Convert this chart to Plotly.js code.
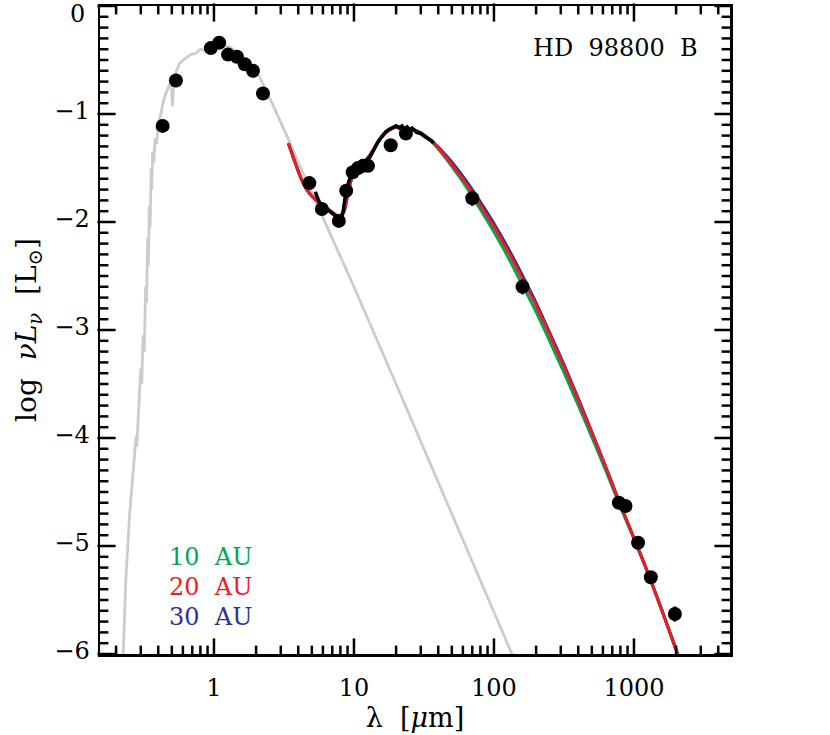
<!DOCTYPE html>
<html>
<head>
<meta charset="utf-8">
<script src="https://cdn.plot.ly/plotly-3.0.1.min.js"></script>
<style>body{margin:0;background:#fff}</style>
</head>
<body>
<div id="sed" style="width:830px;height:735px"></div>
<script>
// stellar photosphere (grey)
var photLam = [0.222, 0.235, 0.25, 0.262, 0.272, 0.278, 0.281, 0.29, 0.30, 0.305, 0.312, 0.318, 0.325, 0.33, 0.336, 0.34, 0.345, 0.35, 0.356, 0.36, 0.365, 0.372, 0.38, 0.39, 0.40, 0.42, 0.44, 0.46, 0.48, 0.495, 0.505, 0.515, 0.54, 0.57, 0.62, 0.68, 0.74, 0.8, 0.86, 0.92, 1.0, 1.1, 1.3, 1.5, 1.8, 2.1, 2.5, 3.0, 3.5, 4.0, 5.0, 6.0, 7.7, 10, 20, 50, 100, 145];
var photLog = [-6.2, -5.3, -4.7, -4.35, -4.1, -3.98, -4.08, -3.7, -3.35, -3.5, -3.05, -3.2, -2.6, -2.75, -2.15, -2.4, -1.85, -2.05, -1.5, -1.7, -1.35, -1.45, -1.22, -1.28, -1.1, -0.98, -0.86, -0.79, -0.73, -0.69, -0.93, -0.7, -0.6, -0.53, -0.49, -0.45, -0.44, -0.4, -0.41, -0.37, -0.36, -0.36, -0.38, -0.44, -0.55, -0.65, -0.85, -1.07, -1.27, -1.45, -1.73, -1.95, -2.26, -2.6, -3.5, -4.7, -5.6, -6.1];

// disk models (10, 20, 30 AU)
var modLam = [3.4, 3.8, 4.2, 4.6, 5.0, 5.5, 6.2, 7.0, 7.8, 8.5, 9.0, 9.7, 10.5, 11.5, 13, 15, 17, 19, 21, 24, 28, 35, 41, 50, 63, 79, 100, 126, 158, 200, 251, 316, 398, 501, 631, 794, 1000, 1259, 1585, 1995, 2239];
var mod20 = [-1.27, -1.45, -1.6, -1.7, -1.76, -1.81, -1.86, -1.91, -1.95, -1.9, -1.75, -1.58, -1.5, -1.46, -1.38, -1.25, -1.17, -1.13, -1.12, -1.13, -1.16, -1.24, -1.33, -1.465, -1.64, -1.833, -2.043, -2.27, -2.513, -2.773, -3.048, -3.338, -3.641, -3.954, -4.276, -4.606, -4.926, -5.25, -5.6, -5.96, -6.14];
var mod10 = [-1.27, -1.45, -1.6, -1.7, -1.76, -1.81, -1.86, -1.91, -1.95, -1.9, -1.75, -1.58, -1.5, -1.46, -1.38, -1.25, -1.17, -1.13, -1.12, -1.13, -1.16, -1.245, -1.34, -1.485, -1.67, -1.873, -2.093, -2.325, -2.573, -2.833, -3.108, -3.393, -3.691, -3.994, -4.306, -4.626, -4.936, -5.25, -5.59, -5.95, -6.13];
var mod30 = [-1.27, -1.45, -1.6, -1.7, -1.76, -1.81, -1.86, -1.91, -1.95, -1.9, -1.75, -1.58, -1.5, -1.46, -1.38, -1.25, -1.17, -1.13, -1.12, -1.13, -1.155, -1.235, -1.32, -1.445, -1.615, -1.803, -2.013, -2.24, -2.483, -2.748, -3.028, -3.318, -3.626, -3.944, -4.271, -4.606, -4.926, -5.25, -5.6, -5.96, -6.14];

// Spitzer IRS spectrum (black)
var irsLam = [5.3, 5.5, 5.8, 6.2, 6.6, 7.0, 7.5, 7.9, 8.3, 8.7, 9.2, 9.7, 10.3, 11, 12, 13, 14, 15, 16, 17, 18, 19, 20, 21, 22, 23, 24, 25, 26, 28, 30, 32, 34, 36, 37];
var irsLog = [-1.72, -1.78, -1.84, -1.87, -1.9, -1.92, -1.95, -1.97, -1.93, -1.75, -1.62, -1.55, -1.5, -1.47, -1.44, -1.4, -1.32, -1.25, -1.2, -1.16, -1.14, -1.12, -1.11, -1.13, -1.11, -1.14, -1.12, -1.15, -1.13, -1.17, -1.18, -1.21, -1.23, -1.25, -1.27];

// photometry
var photoLam = [0.43, 0.535, 0.95, 1.09, 1.26, 1.46, 1.66, 1.9, 2.24, 4.8, 5.9, 7.8, 8.8, 9.8, 10.7, 11.6, 12.6, 18.3, 23.5, 70, 160, 780, 870, 1070, 1320, 1960];
var photoLog = [-1.11, -0.69, -0.39, -0.34, -0.45, -0.47, -0.54, -0.6, -0.81, -1.64, -1.88, -1.99, -1.71, -1.54, -1.5, -1.48, -1.48, -1.29, -1.18, -1.78, -2.6, -4.6, -4.63, -4.97, -5.29, -5.63];
var photoErr = [0, 0, 0, 0, 0, 0, 0, 0, 0, 0, 0, 0, 0, 0, 0, 0, 0, 0, 0, 0.07, 0.07, 0, 0, 0, 0, 0.07];

var xMajor = [1, 10, 100, 1000];
var xLabels = ['1', '10', '100', '1000'];
var yMajor = [-6, -5, -4, -3, -2, -1, 0];
var yLabels = ['\u22126', '\u22125', '\u22124', '\u22123', '\u22122', '\u22121', ''];

var FONT = 'DejaVu Serif, serif';
var XR = [-0.814, 3.686], YR = [-6, 0];
var pxPerDec = 630 / (XR[1] - XR[0]), pxPerUnit = 648 / (YR[1] - YR[0]);
var xMin = Math.pow(10, XR[0]), xMax = Math.pow(10, XR[1]);

// IDL-style inward ticks on all four sides, drawn as line markers
function tickSet(len) {
  var half = len / 2;
  var s = {vx: [], vy: [], hx: [], hy: []};
  s.addX = function (v) {
    var dy = half / pxPerUnit;
    s.vx.push(v, v);
    s.vy.push(YR[0] + dy, YR[1] - dy);
  };
  s.addY = function (v) {
    var f = Math.pow(10, half / pxPerDec);
    s.hx.push(xMin * f, xMax / f);
    s.hy.push(v, v);
  };
  return s;
}
var major = tickSet(13), minor = tickSet(7);
xMajor.forEach(function (v) { major.addX(v); });
yMajor.forEach(function (v) { major.addY(v); });
[0.1, 1, 10, 100, 1000].forEach(function (dec) {
  for (var k = 2; k <= 9; k++) {
    var v = k * dec;
    if (v > xMin && v < xMax) minor.addX(v);
  }
});
for (var i = -59; i <= -1; i++) {
  if (i % 10 !== 0) minor.addY(i / 10);
}
function tickTrace(x, y, symbol, len) {
  return {type: 'scatter', mode: 'markers', x: x, y: y, cliponaxis: false, hoverinfo: 'skip',
          marker: {symbol: symbol, size: len, color: '#000', line: {color: '#000', width: 2.5}}};
}

var data = [
  {type: 'scatter', mode: 'lines', x: photLam, y: photLog,
   line: {color: '#cccccc', width: 2.8}},
  {type: 'scatter', mode: 'lines', x: modLam, y: mod10,
   line: {color: '#00a651', width: 3, shape: 'spline', smoothing: 0.6}},
  {type: 'scatter', mode: 'lines', x: modLam, y: mod30,
   line: {color: '#2e3192', width: 3, shape: 'spline', smoothing: 0.6}},
  {type: 'scatter', mode: 'lines', x: modLam, y: mod20,
   line: {color: '#ed1c24', width: 3, shape: 'spline', smoothing: 0.6}},
  {type: 'scatter', mode: 'lines', x: irsLam, y: irsLog,
   line: {color: '#000', width: 3.5}},
  {type: 'scatter', mode: 'markers', x: photoLam, y: photoLog,
   marker: {color: '#000', size: 14},
   error_y: {type: 'data', array: photoErr, color: '#000', thickness: 2.5, width: 0}},
  tickTrace(major.vx, major.vy, 'line-ns', 13),
  tickTrace(major.hx, major.hy, 'line-ew', 13),
  tickTrace(minor.vx, minor.vy, 'line-ns', 7),
  tickTrace(minor.hx, minor.hy, 'line-ew', 7)
];

var layout = {
  width: 830, height: 735,
  margin: {l: 100, r: 100, t: 6, b: 81},
  showlegend: false,
  paper_bgcolor: '#fff', plot_bgcolor: '#fff',
  font: {family: FONT, size: 24, color: '#000'},
  xaxis: {
    type: 'log', range: XR,
    tickmode: 'array', tickvals: xMajor, ticktext: xLabels,
    ticks: 'inside', ticklen: 13, tickwidth: 2.5, tickcolor: '#000',
    showline: true, linewidth: 2.5, linecolor: '#000', mirror: 'allticks',
    showgrid: false, zeroline: false,
    ticklabelstandoff: 11,
    tickfont: {family: FONT, size: 24},
    title: {text: 'λ  [<i>μ</i>m]', font: {family: FONT, size: 27}, standoff: 6}
  },
  yaxis: {
    range: YR,
    tickmode: 'array', tickvals: yMajor, ticktext: yLabels,
    ticks: 'inside', ticklen: 13, tickwidth: 2.5, tickcolor: '#000',
    showline: true, linewidth: 2.5, linecolor: '#000', mirror: 'allticks',
    showgrid: false, zeroline: false,
    ticklabelstandoff: 3, ticklabelshift: -3,
    tickfont: {family: FONT, size: 24},
    title: {text: 'log  <i>ν</i><i>L</i><sub><i>ν</i></sub>  [L<sub>⊙</sub>]', font: {family: FONT, size: 28}, standoff: 10}
  },
  annotations: [
    {xref: 'paper', yref: 'paper', x: -0.02, y: 0.9877, xanchor: 'right', yanchor: 'middle',
     showarrow: false, text: '0', font: {family: FONT, size: 24, color: '#000'}},
    {xref: 'paper', yref: 'paper', x: 0.952, y: 0.935, xanchor: 'right', yanchor: 'middle',
     showarrow: false, text: 'HD\u00a0\u00a098800\u00a0\u00a0B', font: {family: FONT, size: 24, color: '#000'}},
    {xref: 'paper', yref: 'paper', x: 0.106, y: 0.1497, xanchor: 'left', yanchor: 'middle',
     showarrow: false, text: '10\u00a0\u00a0AU', font: {family: FONT, size: 24, color: '#00a651'}},
    {xref: 'paper', yref: 'paper', x: 0.106, y: 0.1034, xanchor: 'left', yanchor: 'middle',
     showarrow: false, text: '20\u00a0\u00a0AU', font: {family: FONT, size: 24, color: '#ed1c24'}},
    {xref: 'paper', yref: 'paper', x: 0.106, y: 0.0571, xanchor: 'left', yanchor: 'middle',
     showarrow: false, text: '30\u00a0\u00a0AU', font: {family: FONT, size: 24, color: '#2e3192'}}
  ]
};

Plotly.newPlot('sed', data, layout, {displayModeBar: false, staticPlot: true});
</script>
</body>
</html>
